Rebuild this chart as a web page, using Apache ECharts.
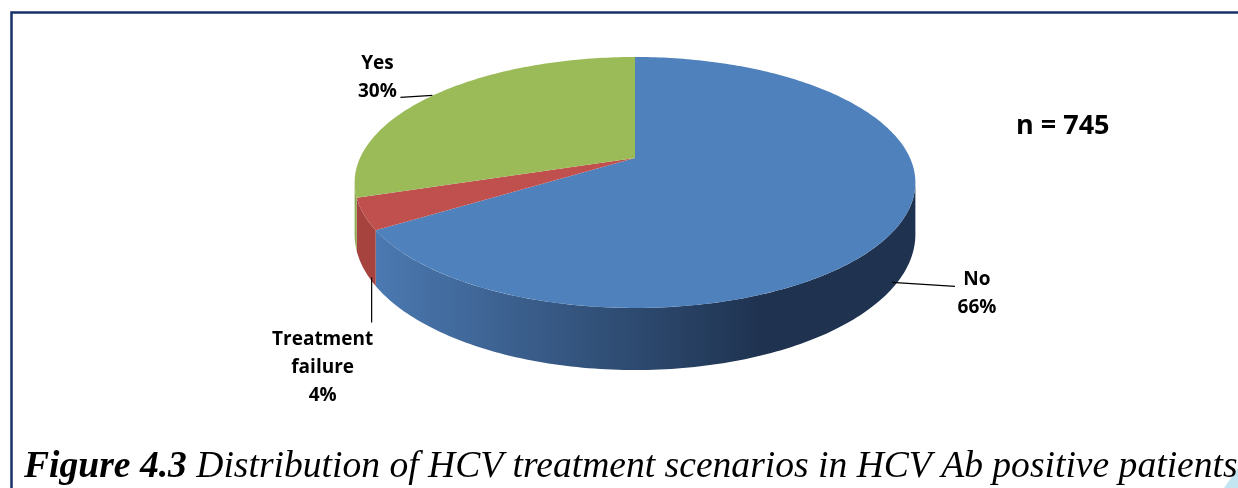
<!DOCTYPE html>
<html>
<head>
<meta charset="utf-8">
<script src="https://cdn.jsdelivr.net/npm/echarts@6/dist/echarts.min.js"></script>
<style>
  html, body { margin: 0; padding: 0; background: #fff; }
  #main { width: 1238px; height: 488px; }
</style>
</head>
<body>
<div id="main"></div>
<script>
// data
const categories = ['No', 'Treatment failure', 'Yes']
const shares = [66, 4, 30]
const labelNames = ['No', 'Treatment\nfailure', 'Yes']
const sampleSize = 745

// colours (top face, side wall light -> dark)
const topColors = ['#4f81bd', '#c0504d', '#9bbb59']
const sideColors = [['#4b79b1', '#1f3350'], ['#a6433f', '#4d1f1d'], ['#8dab51', '#42501f']]

// label placement relative to the slice anchor: leader start, leader end, text centre
const labelLayout = [
  { start: [-9, 5], end: [54, 9], text: [76, 16] },
  { start: [8, 9], end: [8, 54], text: [-41, 99] },
  { start: [-3, 1], end: [-35, 3], text: [-58, -17] }
]

// 3d pie geometry (simple perspective)
const CX = 635, CY = 158, RX = 275, RY = 120.7, K = 0.195, DEPTH = 50
const FRONT_MIN = Math.acos(-K), FRONT_MAX = 2 * Math.PI - Math.acos(-K)

const total = shares.reduce((a, b) => a + b, 0)
const starts = []
let acc = 0
shares.forEach(v => { starts.push(acc / total * 2 * Math.PI); acc += v })

function proj (t, h) {
  const u = Math.sin(t), v = Math.cos(t)
  const s = 1 / (1 + K * v)
  return [CX + RX * u * s, CY - RY * v * s + h * s]
}

function arc (t1, t2, h) {
  const n = Math.max(2, Math.ceil((t2 - t1) / (Math.PI / 180)) + 1)
  const pts = []
  for (let i = 0; i < n; i++) pts.push(proj(t1 + (t2 - t1) * i / (n - 1), h))
  return pts
}

function sliceAngles (idx) {
  const t1 = starts[idx]
  const t2 = t1 + shares[idx] / total * 2 * Math.PI
  return [t1, t2]
}

const chart = echarts.init(document.getElementById('main'))

chart.setOption({
  animation: false,
  graphic: [
    {
      type: 'polyline',
      shape: { points: [[11.5, 488], [11.5, 12.5], [1238, 12.5]] },
      style: { stroke: '#17306a', lineWidth: 2.5, fill: null }
    },
    {
      type: 'polygon',
      shape: { points: [[1224, 488], [1238, 468], [1238, 488]] },
      style: { fill: '#c3e4f1' }
    },
    {
      type: 'text',
      left: 1016,
      top: 113,
      style: {
        text: 'n = ' + sampleSize,
        font: 'bold 27px "Open Sans"',
        fill: '#000'
      }
    },
    {
      type: 'text',
      left: 24,
      top: 448,
      style: {
        text: '{b|Figure 4.3}{i| Distribution of HCV treatment scenarios in HCV Ab positive patients}',
        rich: {
          b: { font: 'italic bold 37.6px "Liberation Serif"', fill: '#000' },
          i: { font: 'italic 37.6px "Liberation Serif"', fill: '#000' }
        }
      }
    }
  ],
  series: [
    {
      // side walls
      type: 'custom',
      name: 'side',
      coordinateSystem: 'none',
      z: 1,
      silent: true,
      data: shares.map((v, i) => ({ name: categories[i], value: [v] })),
      renderItem: function (params, api) {
        const idx = params.dataIndex
        const [t1, t2] = sliceAngles(idx)
        const a = Math.max(t1, FRONT_MIN), b = Math.min(t2, FRONT_MAX)
        if (b <= a) return null
        const top = arc(a, b, 0)
        const bottom = arc(a, b, DEPTH).reverse()
        return {
          type: 'polygon',
          shape: { points: top.concat(bottom) },
          style: {
            fill: new echarts.graphic.LinearGradient(375, 0, 760, 0, [
              { offset: 0, color: sideColors[idx][0] },
              { offset: 1, color: sideColors[idx][1] }
            ], true)
          }
        }
      }
    },
    {
      // top faces + labels
      type: 'custom',
      name: 'top',
      coordinateSystem: 'none',
      z: 2,
      silent: true,
      data: shares.map((v, i) => ({ name: categories[i], value: [v] })),
      renderItem: function (params, api) {
        const idx = params.dataIndex
        const [t1, t2] = sliceAngles(idx)
        const pts = [[CX, CY]].concat(arc(t1, t2, 0))
        const mid = (t1 + t2) / 2
        const anchor = proj(mid, Math.cos(mid) < 0 ? DEPTH : 0)
        const lay = labelLayout[idx]
        const pct = Math.round(api.value(0) / total * 100) + '%'
        return {
          type: 'group',
          children: [
            {
              type: 'polygon',
              shape: { points: pts },
              style: { fill: topColors[idx] }
            },
            {
              type: 'polyline',
              z2: 5,
              shape: {
                points: [
                  [anchor[0] + lay.start[0], anchor[1] + lay.start[1]],
                  [anchor[0] + lay.end[0], anchor[1] + lay.end[1]]
                ]
              },
              style: { stroke: '#000', lineWidth: 1.2, fill: null }
            },
            {
              type: 'text',
              z2: 6,
              style: {
                text: labelNames[idx] + '\n' + pct,
                x: anchor[0] + lay.text[0],
                y: anchor[1] + lay.text[1],
                align: 'center',
                verticalAlign: 'middle',
                font: 'bold 19px "Open Sans"',
                lineHeight: 28,
                fill: '#000'
              }
            }
          ]
        }
      }
    }
  ]
})
</script>
</body>
</html>
